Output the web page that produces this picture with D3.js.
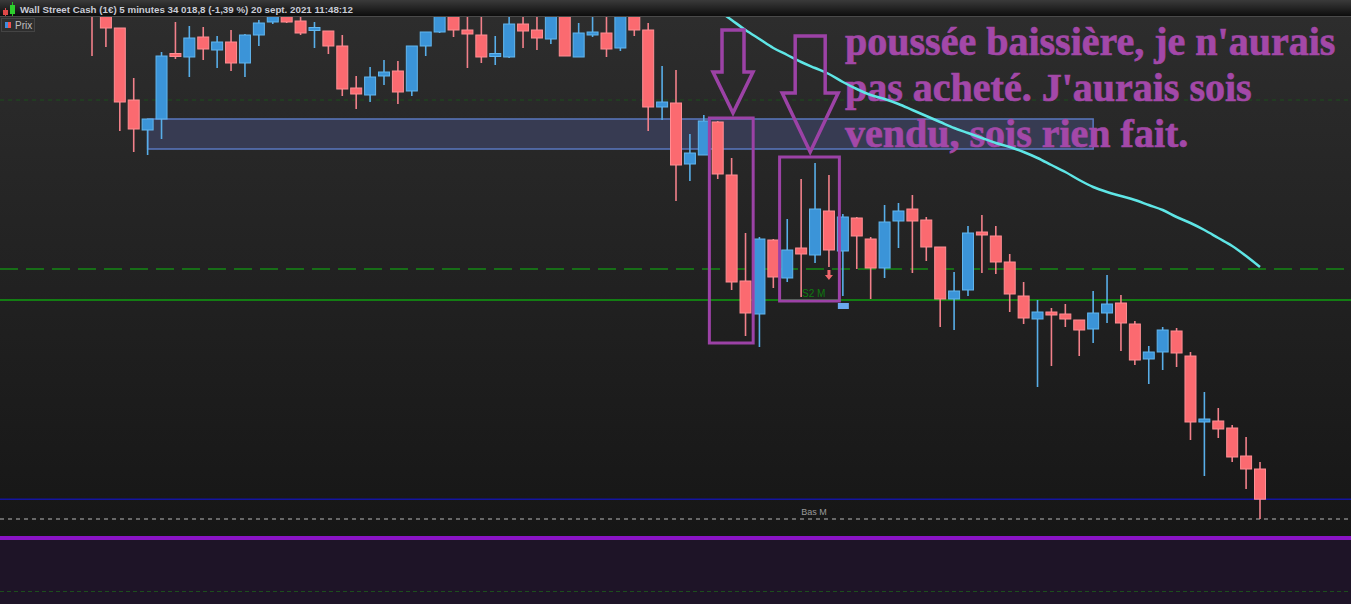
<!DOCTYPE html>
<html lang="fr">
<head>
<meta charset="UTF-8">
<title>Wall Street Cash 5 minutes</title>
<script src="https://d3js.org/d3.v7.min.js"></script>
<style>
  body { margin: 0; padding: 0; background: #171717; overflow: hidden; }
  svg { display: block; }
</style>
</head>
<body>
<div id="chart"></div>
<script>
// ---- data (prix, bougies 5 minutes) ----
const opens = [34513,34503,34490,34418,34388,34399,34463,34461,34481,34468,34476,34455,34483,34496,34506,34497,34487,34487,34472,34430,
  34423,34442,34447,34427,34472,34486,34506,34488,34483,34462,34461,34494,34488,34479,34508,34461,34483.5,34485,34470,34504,
  34488,34411,34415,34354,34363,34396,34343,34237,34204,34278,34240,34270,34263,34307,34267,34300,34279,34250,34297,34309,
  34298,34271,34219,34228,34286,34282,34256,34222,34199,34206,34204,34198,34189,34205,34215,34194,34159,34166,34187,34162,
  34095.5,34097,34090,34062,34049];
const highs = [34518,34508,34490,34440,34399,34466,34496,34492,34491,34482,34488,34484,34498,34508,34510,34504,34496,34487,34483,34442,
  34451,34458,34457,34472,34486,34508,34510,34506,34508,34482,34501,34506,34504,34510,34513,34495,34503,34504,34510,34508,
  34495,34452,34448,34384,34403,34397,34360,34285,34281,34279,34299,34339,34355,34343,34304,34301,34281,34313,34315,34323,
  34301,34271,34246,34292,34303,34292,34264,34236,34218,34210,34214,34198,34227,34243,34223,34197,34172,34191,34190,34166,
  34126,34110,34093,34081,34056];
const lows = [34462,34471,34387,34366,34363,34379,34459,34441,34458,34450,34447,34441,34472,34494,34495,34483,34470,34464,34422,34409,
  34416,34433,34414,34422,34462,34485,34481,34450,34455,34453,34460,34470,34468,34474,34462,34461,34481,34461,34467,34482,
  34387,34398,34317,34337,34363,34339,34228,34182,34171,34230,34236,34221,34255,34251,34222,34249,34219,34240,34270,34245,
  34257,34191,34188,34222,34245,34244,34206,34194,34131,34152,34191,34162,34175,34195,34167,34153,34134,34148,34151,34078,
  34042,34080,34056,34029,33999];
const closes = [34506,34490,34416,34389,34399,34462,34461,34480,34469,34476,34455,34483,34495,34504,34496,34485,34489,34472,34429,34424,
  34441,34446,34426,34472,34486,34504,34488,34484,34461,34463,34494,34487,34480,34506,34462,34485,34484.5,34469,34506,34488,
  34411,34416,34353,34365,34397,34344,34236,34205,34279,34241,34268,34264,34309,34268,34301,34282,34250,34296,34307,34297,
  34271,34219,34227,34285,34283,34256,34224,34200,34206,34203,34199,34188,34205,34214,34195,34158,34166,34188,34165,34096,
  34097.5,34089,34061,34049,34018.8];

// moyenne mobile (visible à partir de la bougie 44)
const maStart = 44;
const maValues = [34518,34508,34498,34488,34479,34470,34463,34456,34450,34444,34436,34429,34423,34419,34414,34408,34402,34396,34390,
  34385,34380,34375,34371,34366,34360,34353,34346,34338,34331,34326,34322,34318,34313,34308,34301,34295,34288,34280,34272,34262,34251];

// niveaux horizontaux
const levelDotted = 34418;
const levelDashed = 34249;
const levelS2 = 34218;
const lastPrice = 34018.8;
const levelBas = 33999;

// zone (rectangle bleu)
const zoneFrom = 4, zoneTo = 72;
const zoneHigh = 34399, zoneLow = 34369;

// annotations
const boxes = [
  { from: 44.4, to: 47.55, high: 34400, low: 34175 },
  { from: 49.45, to: 53.75, high: 34361, low: 34217 }
];
const arrows = [
  { at: 46.1, top: 34488, neck: 34446, tip: 34405, shaft: 11, head: 20 },
  { at: 51.65, top: 34482, neck: 34425, tip: 34366, shaft: 15, head: 28 }
];
const noteLines = ["poussée baissière, je n'aurais", "pas acheté. J'aurais sois", "vendu, sois rien fait."];
const title = "Wall Street Cash (1€) 5 minutes 34 018,8 (-1,39 %) 20 sept. 2021 11:48:12";

// ---- mise en page ----
const width = 1351, height = 604;
const plotTop = 17, plotBottom = 538;

const x = d3.scaleLinear().domain([0, 84]).range([92, 1260]);
const y = d3.scaleLinear().domain([34518, 33914]).range([0, 604]);

const candles = opens.map((o, i) => ({ i, o, h: highs[i], l: lows[i], c: closes[i] }));

const svg = d3.select("#chart").append("svg")
  .attr("width", width).attr("height", height);

const defs = svg.append("defs");
const bg = defs.append("linearGradient").attr("id", "bg").attr("x1", 0).attr("y1", 0).attr("x2", 0).attr("y2", 1);
bg.append("stop").attr("offset", "0%").attr("stop-color", "#2d2d2d");
bg.append("stop").attr("offset", "100%").attr("stop-color", "#161616");
const bar = defs.append("linearGradient").attr("id", "bar").attr("x1", 0).attr("y1", 0).attr("x2", 0).attr("y2", 1);
bar.append("stop").attr("offset", "0%").attr("stop-color", "#3a3a3a");
bar.append("stop").attr("offset", "100%").attr("stop-color", "#0a0a0a");
defs.append("clipPath").attr("id", "plot")
  .append("rect").attr("x", 0).attr("y", plotTop).attr("width", width).attr("height", plotBottom - plotTop);

// fonds
svg.append("rect").attr("x", 0).attr("y", plotTop).attr("width", width).attr("height", plotBottom - plotTop)
  .attr("fill", "url(#bg)");
svg.append("rect").attr("x", 0).attr("y", plotBottom).attr("width", width).attr("height", height - plotBottom)
  .attr("fill", "#1e1427");

const plot = svg.append("g").attr("clip-path", "url(#plot)");

// lignes horizontales
plot.append("line").attr("x1", 0).attr("x2", width)
  .attr("y1", y(levelDotted)).attr("y2", y(levelDotted))
  .attr("stroke", "#1d4f1d").attr("stroke-width", 1).attr("stroke-dasharray", "4,4");

// zone
plot.append("rect")
  .attr("x", x(zoneFrom)).attr("y", y(zoneHigh))
  .attr("width", x(zoneTo) - x(zoneFrom)).attr("height", y(zoneLow) - y(zoneHigh))
  .attr("fill", "#373b52").attr("stroke", "#5a78c0").attr("stroke-width", 1.5);

plot.append("line").attr("x1", 0).attr("x2", width)
  .attr("y1", y(levelDashed)).attr("y2", y(levelDashed))
  .attr("stroke", "#176e17").attr("stroke-width", 2).attr("stroke-dasharray", "18,8");
plot.append("line").attr("x1", 0).attr("x2", width)
  .attr("y1", y(levelS2)).attr("y2", y(levelS2))
  .attr("stroke", "#137d13").attr("stroke-width", 2);
plot.append("line").attr("x1", 0).attr("x2", width)
  .attr("y1", y(lastPrice)).attr("y2", y(lastPrice))
  .attr("stroke", "#1414a0").attr("stroke-width", 1.5);
plot.append("line").attr("x1", 0).attr("x2", width)
  .attr("y1", y(levelBas)).attr("y2", y(levelBas))
  .attr("stroke", "#b8b8b8").attr("stroke-width", 1).attr("stroke-dasharray", "4,4");
plot.append("text").attr("x", 814).attr("y", y(levelBas) - 4)
  .attr("text-anchor", "middle").attr("font-family", "Liberation Sans, Arial, sans-serif")
  .attr("font-size", 9).attr("fill", "#9a9a9a").text("Bas M");

// texte de l'annotation
const note = plot.append("text")
  .attr("font-family", "Liberation Serif, 'Times New Roman', serif")
  .attr("font-weight", "bold").attr("font-size", 40).attr("fill", "#a348a8")
  .attr("stroke", "#a348a8").attr("stroke-width", 0.7);
noteLines.forEach((t, k) => {
  note.append("tspan").attr("x", 845).attr("y", 55 + k * 46).text(t);
});

// moyenne mobile
const ma = d3.line().x((d, k) => x(maStart + k)).y(d => y(d)).curve(d3.curveMonotoneX);
plot.append("path").datum(maValues).attr("d", ma)
  .attr("fill", "none").attr("stroke", "#5fe6e6").attr("stroke-width", 2.5);

// bougies
const bw = 11;
const g = plot.selectAll(".candle").data(candles).enter().append("g").attr("class", "candle");
g.append("line")
  .attr("x1", d => x(d.i)).attr("x2", d => x(d.i))
  .attr("y1", d => y(d.h)).attr("y2", d => y(d.l))
  .attr("stroke", d => d.c >= d.o ? "#58aee8" : "#f2808a").attr("stroke-width", 1.6);
g.append("rect")
  .attr("x", d => x(d.i) - bw / 2)
  .attr("y", d => Math.min(y(d.o), y(d.c)) - (Math.abs(y(d.o) - y(d.c)) < 3 ? 1.5 : 0))
  .attr("width", bw)
  .attr("height", d => Math.max(3, Math.abs(y(d.o) - y(d.c))))
  .attr("fill", d => d.c >= d.o ? "#3b94d8" : "#fb6a70")
  .attr("stroke", d => d.c >= d.o ? "#62b6ee" : "#ff8e93").attr("stroke-width", 1);

// repères S2
plot.append("text").attr("x", x(51.9)).attr("y", y(levelS2) - 3)
  .attr("text-anchor", "middle").attr("font-family", "Liberation Sans, Arial, sans-serif")
  .attr("font-size", 10).attr("fill", "#0f7a0f").text("S2 M");
const ax = x(53), ay = y(34248);
plot.append("path")
  .attr("d", `M${ax - 1.5},${ay} L${ax + 1.5},${ay} L${ax + 1.5},${ay + 5} L${ax + 4},${ay + 5} L${ax},${ay + 10} L${ax - 4},${ay + 5} L${ax - 1.5},${ay + 5} Z`)
  .attr("fill", "#f2676d");
plot.append("rect").attr("x", x(54) - 5).attr("y", y(34215)).attr("width", 11).attr("height", 6)
  .attr("fill", "#6aa8ee");

// cadres et flèches violets
plot.selectAll(".box").data(boxes).enter().append("rect")
  .attr("x", d => x(d.from)).attr("y", d => y(d.high))
  .attr("width", d => x(d.to) - x(d.from)).attr("height", d => y(d.low) - y(d.high))
  .attr("fill", "none").attr("stroke", "#9c42a6").attr("stroke-width", 3);
plot.selectAll(".arrow").data(arrows).enter().append("path")
  .attr("d", d => {
    const cx = x(d.at), t = y(d.top), n = y(d.neck), p = y(d.tip);
    return `M${cx - d.shaft},${t} L${cx + d.shaft},${t} L${cx + d.shaft},${n} L${cx + d.head},${n} L${cx},${p} L${cx - d.head},${n} L${cx - d.shaft},${n} Z`;
  })
  .attr("fill", "none").attr("stroke", "#9c42a6").attr("stroke-width", 3.5).attr("stroke-linejoin", "miter");

// ligne violette et panneau du bas
svg.append("line").attr("x1", 0).attr("x2", width).attr("y1", plotBottom).attr("y2", plotBottom)
  .attr("stroke", "#8a14c6").attr("stroke-width", 4);
svg.append("line").attr("x1", 0).attr("x2", width).attr("y1", 591.5).attr("y2", 591.5)
  .attr("stroke", "#1d4d1d").attr("stroke-width", 1).attr("stroke-dasharray", "4,3");

// barre de titre
svg.append("rect").attr("x", 0).attr("y", 0).attr("width", width).attr("height", plotTop)
  .attr("fill", "url(#bar)");
svg.append("line").attr("x1", 0).attr("x2", width).attr("y1", plotTop - 0.5).attr("y2", plotTop - 0.5)
  .attr("stroke", "#4a4a4a");
// icône
svg.append("line").attr("x1", 5.5).attr("x2", 5.5).attr("y1", 8).attr("y2", 16).attr("stroke", "#e04848");
svg.append("rect").attr("x", 3).attr("y", 10).attr("width", 5).attr("height", 5).attr("fill", "#e04848");
svg.append("line").attr("x1", 12.5).attr("x2", 12.5).attr("y1", 2).attr("y2", 16).attr("stroke", "#26c026");
svg.append("rect").attr("x", 10).attr("y", 5).attr("width", 5).attr("height", 9).attr("fill", "#2ed02e");
svg.append("text").attr("x", 20).attr("y", 12.5)
  .attr("font-family", "Liberation Sans, Arial, sans-serif").attr("font-weight", "bold")
  .attr("font-size", 9.75).attr("fill", "#c9ccd6").text(title);

// légende Prix
svg.append("rect").attr("x", 1.5).attr("y", 18.5).attr("width", 33).attr("height", 13)
  .attr("fill", "#2e2e2e").attr("stroke", "#444");
svg.append("rect").attr("x", 5).attr("y", 22).attr("width", 3).attr("height", 6).attr("fill", "#3d8de0");
svg.append("rect").attr("x", 8).attr("y", 22).attr("width", 3).attr("height", 6).attr("fill", "#f05050");
svg.append("text").attr("x", 15).attr("y", 29)
  .attr("font-family", "Liberation Sans, Arial, sans-serif")
  .attr("font-size", 10).attr("fill", "#c0c0c0").text("Prix");
</script>
</body>
</html>
